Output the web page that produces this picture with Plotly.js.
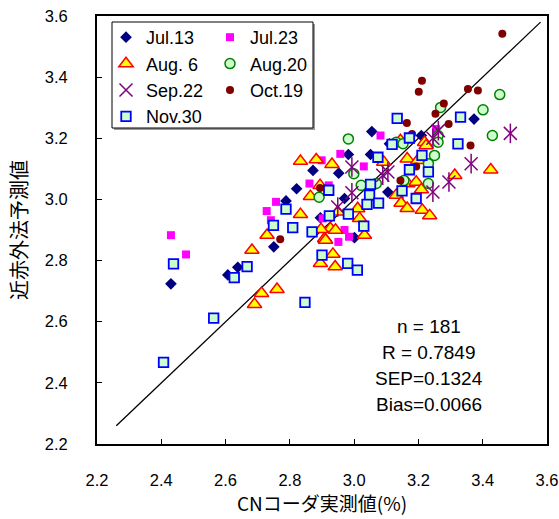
<!DOCTYPE html>
<html>
<head>
<meta charset="utf-8">
<script src="https://cdn.plot.ly/plotly-3.0.1.min.js"></script>
<style>html,body{margin:0;padding:0;background:#fff;}#chart{width:559px;height:519px;}</style>
</head>
<body>
<div id="chart"></div>
<script>
// ---- data ----
const jul13X = [2.430,2.607,2.638,2.750,2.788,2.821,2.872,2.952,2.982,2.970,2.895,3.001,3.055,3.051,3.110,3.209,3.105,3.373];
const jul13Y = [2.724,2.753,2.778,2.845,2.995,3.035,3.095,3.086,3.147,3.003,2.940,2.875,3.222,3.147,3.182,3.209,3.024,3.263];

const jul23X = [2.430,2.477,2.757,2.728,2.741,2.861,2.899,2.957,2.921,3.030,3.082,2.902,2.951,2.970,2.984,3.255];
const jul23Y = [2.883,2.820,2.992,2.962,2.932,3.052,3.128,3.149,3.046,3.108,3.209,2.938,2.861,2.900,2.878,3.230];

const aug6X = [2.833,2.882,2.931,2.864,2.894,2.833,2.729,2.682,2.712,2.690,2.760,2.949,2.926,2.908,2.897,2.942,2.911,2.934,2.895,2.941,3.017,3.032,3.011,3.144,3.219,3.092,3.165,3.167,3.193,3.209,3.131,3.146,3.165,3.212,3.235,3.425,3.313,3.224,3.198];
const aug6Y = [3.125,3.130,3.115,3.010,3.046,2.951,2.883,2.834,2.693,2.657,2.706,2.959,2.905,2.872,2.902,2.900,2.867,2.821,2.791,2.780,2.938,2.883,2.970,3.193,3.187,3.122,3.133,3.052,3.057,3.032,3.014,2.988,2.971,2.965,2.947,3.097,3.079,3.176,3.128];

const aug20X = [3.453,3.401,3.430,3.269,3.261,3.261,3.131,3.152,3.250,3.231,3.155,3.231,3.022,3.069,2.999,2.982,2.891];
const aug20Y = [3.343,3.293,3.209,3.301,3.209,3.187,3.187,3.182,3.144,3.117,3.062,3.052,3.046,3.052,3.084,3.198,3.007];

const sep22X = [3.486,3.364,3.295,3.245,3.245,3.262,3.105,2.993,2.993,2.949,3.089];
const sep22Y = [3.216,3.117,3.057,3.024,3.200,3.225,3.090,3.106,3.022,2.975,3.079];

const oct19X = [3.461,3.211,3.201,3.354,3.385,3.279,3.253,3.164,3.294,3.180,3.362,3.144,3.193,2.894,2.770];
const oct19Y = [3.542,3.388,3.352,3.361,3.356,3.314,3.280,3.250,3.247,3.214,3.176,3.062,3.108,3.037,2.870];

const nov30X = [3.134,3.331,3.323,3.118,3.172,3.074,3.211,3.172,3.231,3.051,3.048,3.076,3.040,3.149,3.193,2.921,2.923,2.982,2.869,3.030,2.788,2.749,2.809,2.667,2.627,2.438,2.563,2.407,2.847,2.900,2.980,3.010];
const nov30Y = [3.265,3.269,3.182,3.180,3.201,3.138,3.144,3.097,3.090,3.049,3.014,2.988,2.984,3.028,3.003,3.030,2.946,2.952,2.894,2.913,2.968,2.915,2.908,2.780,2.744,2.789,2.612,2.467,2.663,2.818,2.791,2.769];

const lineX = [2.26, 3.58];
const lineY = [2.26, 3.58];

const seriesNames = ['Jul.13','Jul.23','Aug. 6','Aug.20','Sep.22','Oct.19','Nov.30'];
const tickVals = [2.2,2.4,2.6,2.8,3.0,3.2,3.4,3.6];
const tickText = ['2.2','2.4','2.6','2.8','3.0','3.2','3.4','3.6'];
const statLines = ['n = 181','R = 0.7849','SEP=0.1324','Bias=0.0066'];
const xTitle = 'CNコーダ実測値(%)';
const yTitle = '近赤外法予測値';

// ---- traces ----
const numFont = 'Liberation Sans, Arial, sans-serif';
const cjkFont = 'Noto Sans CJK JP, sans-serif';

const traces = [
  {x: lineX, y: lineY, mode: 'lines', line: {color: '#000', width: 1.3}, showlegend: false, hoverinfo: 'skip'},
  {x: jul13X, y: jul13Y, name: seriesNames[0], mode: 'markers', legend: 'legend', legendgroup: 'a',
   marker: {symbol: 'diamond', size: 9, color: '#000080', line: {width: 0}}},
  {x: jul23X, y: jul23Y, name: seriesNames[1], mode: 'markers', legend: 'legend2', legendgroup: 'b',
   marker: {symbol: 'square', size: 8, color: '#ff00ff', line: {width: 0}}},
  {x: aug6X, y: aug6Y, name: seriesNames[2], mode: 'markers', legend: 'legend', legendgroup: 'c',
   marker: {symbol: 'triangle-up', size: 12.5, color: '#ffff00', line: {color: '#ff0000', width: 1.5}}},
  {x: aug20X, y: aug20Y, name: seriesNames[3], mode: 'markers', legend: 'legend2', legendgroup: 'd',
   marker: {symbol: 'circle', size: 10, color: '#ccffcc', line: {color: '#008000', width: 1.5}}},
  {x: sep22X, y: sep22Y, name: seriesNames[4], mode: 'markers', legend: 'legend', legendgroup: 'e',
   marker: {symbol: 'x-thin-open', size: 13, color: '#800080', line: {color: '#800080', width: 1.5}}},
  {x: sep22X, y: sep22Y, name: seriesNames[4], mode: 'markers', showlegend: false, legendgroup: 'e',
   marker: {symbol: 'line-ns-open', size: 14, color: '#800080', line: {color: '#800080', width: 1.5}}},
  {x: oct19X, y: oct19Y, name: seriesNames[5], mode: 'markers', legend: 'legend2', legendgroup: 'f',
   marker: {symbol: 'circle', size: 8, color: '#800000', line: {width: 0}}},
  {x: nov30X, y: nov30Y, name: seriesNames[6], mode: 'markers', legend: 'legend', legendgroup: 'g',
   marker: {symbol: 'square', size: 9.5, color: '#ccffcc', line: {color: '#0000ff', width: 1.8}}}
];

const W = 559, H = 519, L = 97, R = 12, T = 16, B = 75;
const pw = W - L - R, ph = H - T - B;
const px2x = p => (p - L) / pw;
const py2y = p => (H - B - p) / ph;

const legendCommon = {
  bgcolor: 'rgba(0,0,0,0)', borderwidth: 0, traceorder: 'normal', tracegroupgap: 0,
  font: {family: numFont, size: 18, color: '#000'}, xanchor: 'left', yanchor: 'top'
};

const annotations = statLines.map((t, i) => ({
  xref: 'paper', yref: 'paper', x: px2x(429), y: py2y([326, 352.5, 378.7, 404.5][i]),
  xanchor: 'center', yanchor: 'middle', showarrow: false, text: t,
  font: {family: numFont, size: 19, color: '#000'}
}));

const layout = {
  width: W, height: H,
  margin: {l: L, r: R, t: T, b: B, pad: 0},
  paper_bgcolor: '#fff', plot_bgcolor: '#fff',
  showlegend: true,
  legend: Object.assign({}, legendCommon, {x: px2x(106), y: py2y(19)}),
  legend2: Object.assign({}, legendCommon, {x: px2x(210), y: py2y(19)}),
  xaxis: {
    range: [2.2, 3.6], tickvals: tickVals, ticktext: tickText, ticks: 'inside', ticklen: 5, tickwidth: 1, tickcolor: '#000',
    showline: true, linecolor: '#000', linewidth: 2, mirror: true, showgrid: false, zeroline: false,
    tickfont: {family: numFont, size: 16.5, color: '#000'}, ticklabelstandoff: 20,
    title: {text: xTitle, font: {family: cjkFont, size: 19, color: '#000'}, standoff: 3},
    automargin: false
  },
  yaxis: {
    range: [2.2, 3.6], tickvals: tickVals, ticktext: tickText, ticks: 'inside', ticklen: 5, tickwidth: 1, tickcolor: '#000',
    showline: true, linecolor: '#000', linewidth: 2, mirror: true, showgrid: false, zeroline: false,
    tickfont: {family: numFont, size: 16.5, color: '#000'}, ticklabelstandoff: 24,
    title: {text: yTitle, font: {family: cjkFont, size: 20, color: '#000'}, standoff: 12},
    automargin: false
  },
  shapes: [
    {type: 'rect', xref: 'paper', yref: 'paper', layer: 'below',
     x0: px2x(114), x1: px2x(315), y0: py2y(130), y1: py2y(24),
     fillcolor: '#999', line: {width: 0}},
    {type: 'rect', xref: 'paper', yref: 'paper', layer: 'below',
     x0: px2x(112), x1: px2x(313), y0: py2y(128), y1: py2y(22),
     fillcolor: '#fff', line: {color: '#000', width: 1}}
  ],
  annotations: annotations
};

Plotly.newPlot('chart', traces, layout, {staticPlot: true, displayModeBar: false});
</script>
</body>
</html>
